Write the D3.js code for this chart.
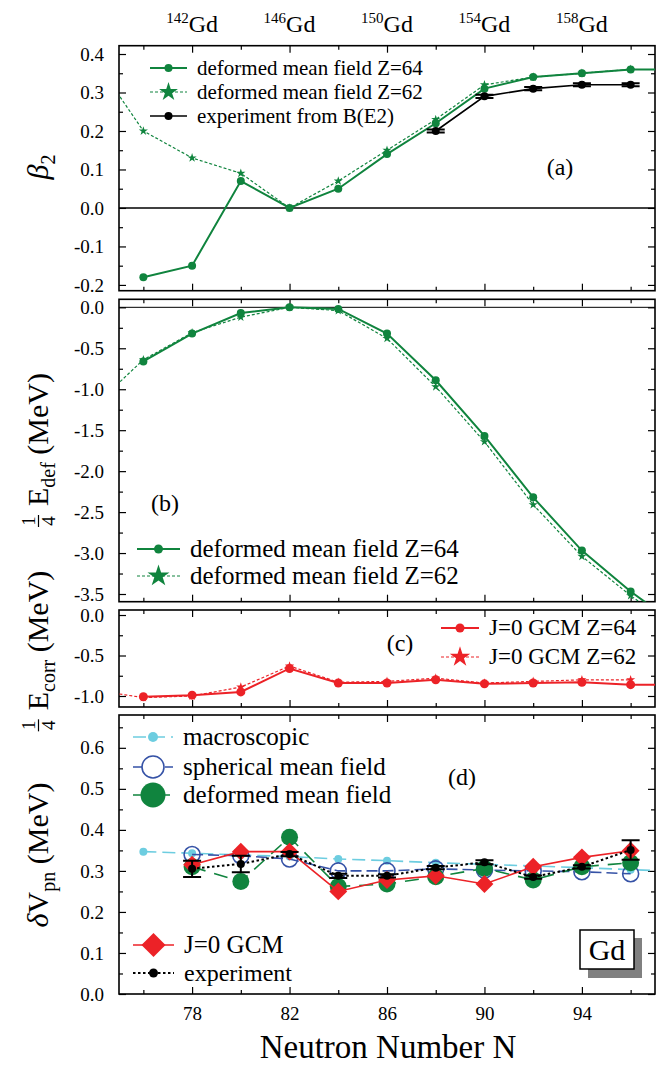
<!DOCTYPE html>
<html>
<head>
<meta charset="utf-8">
<script src="https://cdn.jsdelivr.net/npm/d3@7/dist/d3.min.js"></script>
<style>
  body { margin: 0; background: #fff; }
  svg text { font-family: "Liberation Serif", "DejaVu Serif", serif; fill: #000; }
</style>
</head>
<body>
<div id="container"></div>
<script>
/* DATA */
const isotopeN = [78, 82, 86, 90, 94];          // top labels: (N+64)Gd
const majorN = [78, 82, 86, 90, 94];
const minorN = [76, 80, 84, 88, 92, 96];

// (a) quadrupole deformation beta2
const beta64N = [76, 78, 80, 82, 84, 86, 88, 90, 92, 94, 96, 98];
const beta64 = [-0.18, -0.15, 0.07, 0.0, 0.05, 0.14, 0.22, 0.31, 0.34, 0.35, 0.36, 0.36];
const beta62N = [74, 76, 78, 80, 82, 84, 86, 88, 90, 92, 94, 96];
const beta62 = [0.385, 0.20, 0.13, 0.09, 0.0, 0.07, 0.15, 0.23, 0.32, 0.34, 0.35, 0.36];
const betaExpN = [88, 90, 92, 94, 96];
const betaExp = [0.20, 0.29, 0.31, 0.32, 0.32];
const betaExpErr = [0.004, 0.004, 0.004, 0.004, 0.004];

// (b) 1/4 E_def (MeV)
const edef64N = [76, 78, 80, 82, 84, 86, 88, 90, 92, 94, 96, 98];
const edef64 = [-0.66, -0.32, -0.07, 0.0, -0.02, -0.32, -0.89, -1.57, -2.32, -2.97, -3.47, -3.9];
const edef62N = [74, 76, 78, 80, 82, 84, 86, 88, 90, 92, 94, 96, 98];
const edef62 = [-1.2, -0.64, -0.31, -0.12, 0.0, -0.04, -0.38, -0.97, -1.64, -2.41, -3.04, -3.52, -3.95];

// (c) 1/4 E_corr (MeV)
const ecorr64N = [76, 78, 80, 82, 84, 86, 88, 90, 92, 94, 96, 98];
const ecorr64 = [-1.01, -0.99, -0.95, -0.66, -0.84, -0.84, -0.80, -0.85, -0.84, -0.83, -0.86, -0.86];
const ecorr62N = [74, 76, 78, 80, 82, 84, 86, 88, 90, 92, 94, 96];
const ecorr62 = [-0.93, -1.02, -1.0, -0.89, -0.63, -0.83, -0.82, -0.78, -0.84, -0.82, -0.80, -0.80];

// (d) delta V_pn (MeV)
const macroN = [76, 78, 80, 82, 84, 86, 88, 90, 92, 94, 96, 98];
const macro = [0.347, 0.343, 0.339, 0.335, 0.329, 0.325, 0.320, 0.316, 0.312, 0.308, 0.303, 0.299];
const vpnN = [78, 80, 82, 84, 86, 88, 90, 92, 94, 96];
const spherical = [0.34, 0.337, 0.329, 0.30, 0.30, 0.305, 0.302, 0.30, 0.298, 0.293];
const deformed = [0.31, 0.274, 0.382, 0.262, 0.268, 0.286, 0.306, 0.278, 0.31, 0.32];
const gcm = [0.315, 0.347, 0.347, 0.25, 0.278, 0.288, 0.268, 0.31, 0.333, 0.349];
const vpnExp = [0.305, 0.317, 0.341, 0.288, 0.288, 0.308, 0.321, 0.285, 0.31, 0.351];
const vpnExpErr = [0.02, 0.02, 0.005, 0.005, 0.004, 0.004, 0.005, 0.004, 0.004, 0.024];

/* LAYOUT */
const width = 656, height = 1066;
const left = 119, right = 655;
const green = "#10843e", red = "#ec2227", cyan = "#6dcde0", blue = "#3552a6", grey = "#808080";
const serif = '"Liberation Serif", "DejaVu Serif", serif';

const panels = [
  { key: "a", top: 45.7, bottom: 290.7, domain: [-0.215, 0.4216],
    major: [-0.2, -0.1, 0, 0.1, 0.2, 0.3, 0.4], minor: [-0.15, -0.05, 0.05, 0.15, 0.25, 0.35] },
  { key: "b", top: 299.3, bottom: 601.7, domain: [-3.594, 0.098],
    major: [-3.5, -3, -2.5, -2, -1.5, -1, -0.5, 0], minor: [-3.25, -2.75, -2.25, -1.75, -1.25, -0.75, -0.25] },
  { key: "c", top: 610, bottom: 707, domain: [-1.136, 0.062],
    major: [-1, -0.5, 0], minor: [-0.75, -0.25] },
  { key: "d", top: 715, bottom: 994, domain: [0, 0.68],
    major: [0, 0.1, 0.2, 0.3, 0.4, 0.5, 0.6], minor: [0.05, 0.15, 0.25, 0.35, 0.45, 0.55, 0.65] }
];

const x = d3.scaleLinear().domain([75, 97]).range([left, right]);
const pts = (ns, vs, es) => ns.map((n, i) => ({ n, v: vs[i], e: es ? es[i] : 0 }));
const fmt = d => (Math.abs(d) < 1e-9 ? 0 : d).toFixed(1);

const svg = d3.select("#container").append("svg")
  .attr("width", width).attr("height", height)
  .attr("font-family", serif);
const defs = svg.append("defs");

function drawMarker(g, cx, cy, m) {
  if (m.shape === "circle") {
    return g.append("circle").attr("cx", cx).attr("cy", cy).attr("r", m.r)
      .attr("fill", m.fill || "none").attr("stroke", m.stroke || "none").attr("stroke-width", m.sw || 0);
  }
  const sym = m.shape === "star" ? d3.symbolStar : d3.symbolSquare;
  g.append("path")
    .attr("d", d3.symbol(sym, m.size)())
    .attr("transform", `translate(${cx},${cy})` + (m.shape === "diamond" ? " rotate(45)" : ""))
    .attr("fill", m.fill);
}

function drawSeries(g, y, data, o) {
  const line = d3.line().x(d => x(d.n)).y(d => y(d.v));
  g.append("path").datum(data).attr("d", line)
    .attr("fill", "none").attr("stroke", o.color).attr("stroke-width", o.width)
    .attr("stroke-dasharray", o.dash || null);
  if (o.err) {
    data.forEach(d => {
      const cx = x(d.n), y0 = y(d.v - d.e), y1 = y(d.v + d.e);
      g.append("path").attr("d", `M${cx},${y0}V${y1}M${cx - 9},${y0}H${cx + 9}M${cx - 9},${y1}H${cx + 9}`)
        .attr("stroke", o.color).attr("stroke-width", 2).attr("fill", "none");
    });
  }
  data.forEach(d => drawMarker(g, x(d.n), y(d.v), o.marker));
}

function legendRow(g, x1, x2, yy, o, label, size) {
  g.append("line").attr("x1", x1).attr("x2", x2).attr("y1", yy).attr("y2", yy)
    .attr("stroke", o.color).attr("stroke-width", o.width).attr("stroke-dasharray", o.dash || null);
  drawMarker(g, (x1 + x2) / 2, yy, o.legendMarker || o.marker);
  g.append("text").attr("x", x2 + 10).attr("y", yy).attr("dy", "0.32em")
    .attr("font-size", size).text(label);
}

const scales = {};
panels.forEach(p => {
  const y = d3.scaleLinear().domain(p.domain).range([p.bottom, p.top]);
  scales[p.key] = y;
  defs.append("clipPath").attr("id", "clip-" + p.key).append("rect")
    .attr("x", left).attr("y", p.top).attr("width", right - left).attr("height", p.bottom - p.top);

  const ax = svg.append("g").attr("class", "axes-" + p.key);
  const style = a => a.attr("font-family", serif).attr("font-size", 19).call(s => s.select(".domain").remove());
  ax.append("g").attr("transform", `translate(${left},0)`)
    .call(d3.axisLeft(y).tickValues(p.major).tickSize(-7).tickPadding(15).tickFormat(fmt)).call(style);
  ax.append("g").attr("transform", `translate(${left},0)`)
    .call(d3.axisLeft(y).tickValues(p.minor).tickSize(-4).tickFormat("")).call(style);
  ax.append("g").attr("transform", `translate(${right},0)`)
    .call(d3.axisRight(y).tickValues(p.major).tickSize(-7).tickFormat("")).call(style);
  ax.append("g").attr("transform", `translate(${right},0)`)
    .call(d3.axisRight(y).tickValues(p.minor).tickSize(-4).tickFormat("")).call(style);
  ax.append("g").attr("transform", `translate(0,${p.top})`)
    .call(d3.axisTop(x).tickValues(majorN).tickSize(-7).tickFormat("")).call(style);
  ax.append("g").attr("transform", `translate(0,${p.top})`)
    .call(d3.axisTop(x).tickValues(minorN).tickSize(-4).tickFormat("")).call(style);
  ax.append("g").attr("transform", `translate(0,${p.bottom})`)
    .call(d3.axisBottom(x).tickValues(majorN).tickSize(-7).tickPadding(13)
      .tickFormat(p.key === "d" ? d3.format("d") : "")).call(style);
  ax.append("g").attr("transform", `translate(0,${p.bottom})`)
    .call(d3.axisBottom(x).tickValues(minorN).tickSize(-4).tickFormat("")).call(style);
  ax.selectAll(".tick line").attr("stroke-width", 1.2);

  svg.append("rect").attr("x", left).attr("y", p.top)
    .attr("width", right - left).attr("height", p.bottom - p.top)
    .attr("fill", "none").attr("stroke", "#000").attr("stroke-width", 1.6);
});

/* PANEL (a) */
{
  const y = scales.a;
  const g = svg.append("g").attr("clip-path", "url(#clip-a)");
  g.append("line").attr("x1", left).attr("x2", right).attr("y1", y(0)).attr("y2", y(0))
    .attr("stroke", "#000").attr("stroke-width", 1.5);
  const s62 = { color: green, width: 1.2, dash: "3,2", marker: { shape: "star", size: 26, fill: green },
    legendMarker: { shape: "star", size: 110, fill: green } };
  const s64 = { color: green, width: 2, marker: { shape: "circle", r: 4, fill: green } };
  const sExp = { color: "#000", width: 1.6, err: true, marker: { shape: "circle", r: 4, fill: "#000" } };
  drawSeries(g, y, pts(beta62N, beta62), s62);
  drawSeries(g, y, pts(beta64N, beta64), s64);
  drawSeries(g, y, pts(betaExpN, betaExp, betaExpErr), sExp);

  const lg = svg.append("g");
  legendRow(lg, 150, 187, 68, s64, "deformed mean field Z=64", 21);
  legendRow(lg, 150, 187, 92, s62, "deformed mean field Z=62", 21);
  legendRow(lg, 150, 187, 116, sExp, "experiment from B(E2)", 21);
  svg.append("text").attr("x", 560).attr("y", 167).attr("dy", "0.32em")
    .attr("text-anchor", "middle").attr("font-size", 24).text("(a)");
}

/* PANEL (b) */
{
  const y = scales.b;
  const g = svg.append("g").attr("clip-path", "url(#clip-b)");
  g.append("line").attr("x1", left).attr("x2", right).attr("y1", y(0)).attr("y2", y(0))
    .attr("stroke", "#000").attr("stroke-width", 1);
  const s62 = { color: green, width: 1.2, dash: "3,2", marker: { shape: "star", size: 26, fill: green },
    legendMarker: { shape: "star", size: 150, fill: green } };
  const s64 = { color: green, width: 2, marker: { shape: "circle", r: 4, fill: green },
    legendMarker: { shape: "circle", r: 4.5, fill: green } };
  drawSeries(g, y, pts(edef62N, edef62), s62);
  drawSeries(g, y, pts(edef64N, edef64), s64);

  const lg = svg.append("g");
  legendRow(lg, 137, 180, 549, s64, "deformed mean field Z=64", 25);
  legendRow(lg, 137, 180, 576, s62, "deformed mean field Z=62", 25);
  svg.append("text").attr("x", 165).attr("y", 503).attr("dy", "0.32em")
    .attr("text-anchor", "middle").attr("font-size", 24).text("(b)");
}

/* PANEL (c) */
{
  const y = scales.c;
  const g = svg.append("g").attr("clip-path", "url(#clip-c)");
  const s62 = { color: red, width: 1.2, dash: "3,2", marker: { shape: "star", size: 26, fill: red },
    legendMarker: { shape: "star", size: 130, fill: red } };
  const s64 = { color: red, width: 2, marker: { shape: "circle", r: 4.5, fill: red } };
  drawSeries(g, y, pts(ecorr62N, ecorr62), s62);
  drawSeries(g, y, pts(ecorr64N, ecorr64), s64);

  const lg = svg.append("g");
  legendRow(lg, 441, 479, 628, s64, "J=0 GCM Z=64", 23);
  legendRow(lg, 441, 479, 657, s62, "J=0 GCM Z=62", 23);
  svg.append("text").attr("x", 400).attr("y", 643).attr("dy", "0.32em")
    .attr("text-anchor", "middle").attr("font-size", 24).text("(c)");
}

/* PANEL (d) */
{
  const y = scales.d;
  const g = svg.append("g").attr("clip-path", "url(#clip-d)");
  const sMac = { color: cyan, width: 1.6, dash: "13,6", marker: { shape: "circle", r: 4, fill: cyan },
    legendMarker: { shape: "circle", r: 5, fill: cyan } };
  const sSph = { color: blue, width: 1.6, dash: "11,5", marker: { shape: "circle", r: 8, fill: "none", stroke: blue, sw: 1.6 },
    legendMarker: { shape: "circle", r: 11, fill: "#fff", stroke: blue, sw: 1.6 } };
  const sDef = { color: green, width: 1.6, dash: "14,9", marker: { shape: "circle", r: 8.5, fill: green },
    legendMarker: { shape: "circle", r: 12.5, fill: green } };
  const sGcm = { color: red, width: 1.6, marker: { shape: "diamond", size: 160, fill: red },
    legendMarker: { shape: "diamond", size: 290, fill: red } };
  const sExp = { color: "#000", width: 2, dash: "2.5,2.5", err: true, marker: { shape: "circle", r: 4, fill: "#000" },
    legendMarker: { shape: "circle", r: 4.5, fill: "#000" } };
  drawSeries(g, y, pts(macroN, macro), sMac);
  drawSeries(g, y, pts(vpnN, spherical), sSph);
  drawSeries(g, y, pts(vpnN, deformed), sDef);
  drawSeries(g, y, pts(vpnN, gcm), sGcm);
  drawSeries(g, y, pts(vpnN, vpnExp, vpnExpErr), sExp);

  const lg = svg.append("g");
  legendRow(lg, 133, 173, 737, sMac, "macroscopic", 25);
  legendRow(lg, 133, 173, 767, sSph, "spherical mean field", 25);
  legendRow(lg, 133, 173, 795, sDef, "deformed mean field", 25);
  legendRow(lg, 133, 174, 945, sGcm, "J=0 GCM", 25);
  legendRow(lg, 133, 174, 973, sExp, "experiment", 24);
  svg.append("text").attr("x", 462).attr("y", 777).attr("dy", "0.32em")
    .attr("text-anchor", "middle").attr("font-size", 24).text("(d)");

  // element tag with drop shadow
  svg.append("rect").attr("x", 588).attr("y", 938).attr("width", 54).attr("height", 40).attr("fill", grey);
  svg.append("rect").attr("x", 580).attr("y", 930).attr("width", 54).attr("height", 39)
    .attr("fill", "#fff").attr("stroke", "#000").attr("stroke-width", 1.5);
  svg.append("text").attr("x", 607).attr("y", 960).attr("text-anchor", "middle")
    .attr("font-size", 30).text("Gd");
}

/* TOP ISOTOPE LABELS */
isotopeN.forEach(n => {
  const t = svg.append("text").attr("x", x(n)).attr("y", 32).attr("text-anchor", "middle");
  t.append("tspan").attr("font-size", 15).attr("dy", -9).text(n + 64);
  t.append("tspan").attr("font-size", 24).attr("dy", 9).text("Gd");
});

/* AXIS TITLES */
svg.append("text").attr("x", 388).attr("y", 1058).attr("text-anchor", "middle")
  .attr("font-size", 33).text("Neutron Number N");

function yTitle(baseX, centerY, frac, pieces) {
  const g = svg.append("g").attr("transform", `translate(${baseX},${centerY}) rotate(-90)`);
  const t = g.append("text").attr("font-size", 30);
  let shift = 0;
  pieces.forEach(p => {
    const ts = t.append("tspan").text(p.t);
    if (p.italic) ts.attr("font-style", "italic");
    if (p.sub) { ts.attr("font-size", 20).attr("dy", 7); shift = 7; }
    else if (shift) { ts.attr("dy", -shift); shift = 0; }
  });
  const tw = t.node().getComputedTextLength();
  const fw = frac ? 12 : 0, gap = frac ? 9 : 0;
  const start = -(fw + gap + tw) / 2;
  t.attr("x", start + fw + gap);
  if (frac) {
    const fx = start + fw / 2;
    g.append("text").attr("x", fx).attr("y", -13).attr("text-anchor", "middle").attr("font-size", 19).text("1");
    g.append("line").attr("x1", fx - 6).attr("x2", fx + 6).attr("y1", -9.5).attr("y2", -9.5)
      .attr("stroke", "#000").attr("stroke-width", 1.2);
    g.append("text").attr("x", fx).attr("y", 6.5).attr("text-anchor", "middle").attr("font-size", 19).text("4");
  }
}
yTitle(48, 167, false, [{ t: "β", italic: true }, { t: "2", sub: true }]);
yTitle(48, 450, true, [{ t: "E" }, { t: "def", sub: true }, { t: " (MeV)" }]);
yTitle(48, 651, true, [{ t: "E" }, { t: "corr", sub: true }, { t: " (MeV)" }]);
yTitle(48, 855, false, [{ t: "δ", italic: true }, { t: "V" }, { t: "pn", sub: true }, { t: " (MeV)" }]);
</script>
</body>
</html>
